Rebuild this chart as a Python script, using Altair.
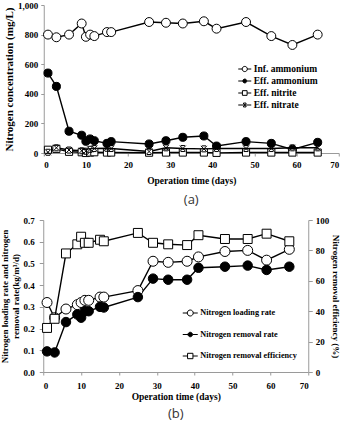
import altair as alt
import pandas as pd

# ---------- (a) nitrogen concentrations ----------
days_a = [1, 3, 6, 9, 10, 11, 12, 15, 16, 25, 29, 33, 38, 41, 48, 54, 59, 65]
inf_ammonium = [800, 782, 800, 875, 785, 800, 790, 817, 817, 885, 880, 875, 890, 840, 885, 790, 730, 800]
eff_ammonium = [540, 450, 147, 120, 79, 95, 83, 65, 77, 61, 83, 106, 115, 47, 77, 65, 24, 72]
eff_nitrite = [22, 28, 8, 5, 0, 3, 5, 3, 3, 2, 3, 3, 3, 1, 3, 3, 3, 3]
eff_nitrate = [5, 35, 20, 15, 12, 25, 30, 32, 30, 10, 35, 30, 28, 30, 30, 30, 35, 35]
series_a = ["Inf. ammonium", "Eff. ammonium", "Eff. nitrite", "Eff. nitrate"]

# ---------- (b) loading / removal ----------
days_b = [1, 3, 6, 9, 10, 11, 12, 15, 16, 25, 29, 33, 38, 41, 48, 54, 59, 65]
loading_rate = [0.32, 0.25, 0.29, 0.31, 0.32, 0.33, 0.33, 0.345, 0.345, 0.375, 0.51, 0.505, 0.51, 0.53, 0.555, 0.56, 0.515, 0.565]
removal_rate = [0.095, 0.09, 0.23, 0.265, 0.25, 0.28, 0.28, 0.30, 0.297, 0.345, 0.43, 0.425, 0.425, 0.48, 0.485, 0.49, 0.47, 0.485]
removal_eff = [29, 35, 78, 84, 89, 85, 85, 87, 86, 91.5, 85, 84, 83.5, 90, 87.5, 87.5, 91, 86]
series_b = ["Nitrogen loading rate", "Nitrogen removal rate", "Nitrogen removal efficiency"]

FONT = "Liberation Serif"
X_MARK = "M-1,-1L1,1M-1,1L1,-1M-0.7,-1L0.7,-1M-0.7,1L0.7,1"

# legend glyphs: a short line with the marker drawn over it
LEG_OPEN_CIRCLE = "M-1,0L-0.4,0M0.4,0L1,0M-0.4,0A0.4,0.4 0 1,0 0.4,0A0.4,0.4 0 1,0 -0.4,0Z"
LEG_SQUARE = "M-1,0L-0.36,0M0.36,0L1,0M-0.36,-0.36L0.36,-0.36L0.36,0.36L-0.36,0.36Z"
LEG_DOT = "M-1,0L-0.3,0M0.3,0L1,0M-0.3,0A0.3,0.3 0 1,0 0.3,0A0.3,0.3 0 1,0 -0.3,0Z"
LEG_X = "M-1,0L1,0M-0.25,-0.3L0.25,0.3M-0.25,0.3L0.25,-0.3M-0.2,-0.3L0.2,-0.3M-0.2,0.3L0.2,0.3"


def make_legend(x, y, size, spacing, font_size):
    return alt.Legend(
        title=None, orient="none", legendX=x, legendY=y,
        labelFont=FONT, labelFontWeight="bold", labelFontSize=font_size,
        labelColor="black", rowPadding=spacing, labelOffset=2,
        symbolSize=size, symbolStrokeColor="black", symbolStrokeWidth=1,
        symbolOpacity=1,
    )


def legend_layer(df, names, glyphs, fills, legend):
    # draws nothing in the plot; only supplies the legend entries
    return alt.Chart(df).transform_filter("false").mark_point(
        filled=True, stroke="black", strokeWidth=1).encode(
        shape=alt.Shape("series:N", scale=alt.Scale(domain=names, range=glyphs), legend=legend),
        fill=alt.Fill("series:N", scale=alt.Scale(domain=names, range=fills), legend=legend),
        stroke=alt.Stroke("series:N", scale=alt.Scale(domain=names, range=["black"] * len(names)), legend=legend),
    )


rows_a = []
for name, vals in zip(series_a, [inf_ammonium, eff_ammonium, eff_nitrite, eff_nitrate]):
    for d, v in zip(days_a, vals):
        rows_a.append({"day": d, "value": v, "series": name})
df_a = pd.DataFrame(rows_a)

fills_a = ["white", "black", "white", "white"]

x_a = alt.X("day:Q", scale=alt.Scale(domain=[0, 70]),
            axis=alt.Axis(values=list(range(0, 71, 10)), title="Operation time (days)",
                          tickSize=3, labelPadding=4, titlePadding=6, titleFontSize=9.5))
y_a = alt.Y("value:Q", scale=alt.Scale(domain=[0, 1000]),
            axis=alt.Axis(values=list(range(0, 1001, 200)), format=",.0f",
                          title="Nitrogen concentration (mg/L)", titleFontSize=11,
                          tickSize=3, labelPadding=3, titlePadding=3))

lines_a = alt.Chart(df_a).mark_line(color="black", strokeWidth=1.4).encode(
    x=x_a, y=y_a, detail="series:N")
points_a = alt.Chart(df_a).mark_point(filled=True, stroke="black", strokeWidth=1, opacity=1).encode(
    x=x_a, y=y_a,
    shape=alt.Shape("series:N", scale=alt.Scale(domain=series_a, range=["circle", "circle", "square", X_MARK]), legend=None),
    fill=alt.Fill("series:N", scale=alt.Scale(domain=series_a, range=fills_a), legend=None),
    size=alt.Size("series:N", scale=alt.Scale(domain=series_a, range=[80, 36, 80, 16]), legend=None),
)
key_a = legend_layer(df_a, series_a, [LEG_OPEN_CIRCLE, LEG_DOT, LEG_SQUARE, LEG_X], fills_a,
                     make_legend(194, 57, 169, 0, 9.5))

panel_a = alt.layer(lines_a, points_a, key_a).resolve_scale(
    shape="independent", fill="independent", size="independent", stroke="independent"
).properties(
    width=295, height=148,
    title=alt.TitleParams("(a)", orient="bottom", anchor="middle", font="Open Sans",
                          fontSize=13, fontWeight="normal", color="#333", offset=9),
)

# ---------- panel (b) ----------
rows_r = []
for name, vals in zip(series_b[:2], [loading_rate, removal_rate]):
    for d, v in zip(days_b, vals):
        rows_r.append({"day": d, "value": v, "series": name})
df_r = pd.DataFrame(rows_r)
df_e = pd.DataFrame({"day": days_b, "value": removal_eff, "series": series_b[2]})
fills_b = ["white", "black", "white"]

x_b = alt.X("day:Q", scale=alt.Scale(domain=[0, 70]),
            axis=alt.Axis(values=list(range(0, 71, 10)), title="Operation time (days)",
                          tickSize=3, labelPadding=6, titlePadding=1, titleFontSize=9.5))
shape_b = alt.Shape("series:N", scale=alt.Scale(domain=series_b, range=["circle", "circle", "square"]), legend=None)
fill_b = alt.Fill("series:N", scale=alt.Scale(domain=series_b, range=fills_b), legend=None)
size_b = alt.Size("series:N", scale=alt.Scale(domain=series_b, range=[100, 80, 64]), legend=None)

y_r = alt.Y("value:Q", scale=alt.Scale(domain=[0, 0.7]),
            axis=alt.Axis(values=[i / 10 for i in range(8)], format=".1f",
                          title=["Nitrogen loading rate and nitrogen", "removal rate(kg/m\u00b3/d)"],
                          titleFontSize=9, titleLineHeight=11,
                          tickSize=4, labelPadding=5, titlePadding=3))
y_e = alt.Y("value:Q", scale=alt.Scale(domain=[0, 100]),
            axis=alt.Axis(values=list(range(0, 101, 20)), orient="right",
                          title="Nitrogen removal efficiency (%)", titleFontSize=9,
                          tickSize=4, labelPadding=3, titlePadding=2))

rates = alt.layer(
    alt.Chart(df_r).mark_line(color="black", strokeWidth=1.4).encode(x=x_b, y=y_r, detail="series:N"),
    alt.Chart(df_r).mark_point(filled=True, stroke="black", strokeWidth=1, opacity=1).encode(
        x=x_b, y=y_r, shape=shape_b, fill=fill_b, size=size_b),
)
eff = alt.layer(
    alt.Chart(df_e).mark_line(color="black", strokeWidth=1.4).encode(x=x_b, y=y_e),
    alt.Chart(df_e).mark_point(filled=True, stroke="black", strokeWidth=1, opacity=1).encode(
        x=x_b, y=y_e, shape=shape_b, fill=fill_b, size=size_b),
)
key_b = legend_layer(df_e, series_b, [LEG_OPEN_CIRCLE, LEG_DOT, LEG_SQUARE], fills_b,
                     make_legend(139, 85, 225, 8.5, 8.2))

panel_b = alt.layer(rates, eff, key_b).resolve_scale(
    y="independent", shape="independent", fill="independent", size="independent", stroke="independent"
).properties(
    width=265, height=152,
    title=alt.TitleParams("(b)", orient="bottom", anchor="middle", font="Open Sans",
                          fontSize=13, fontWeight="normal", color="#333", offset=7),
)

chart = alt.vconcat(panel_a, panel_b, spacing=9, center=True).configure(
    padding={"left": 0, "top": 1, "right": 0, "bottom": 0}
).configure_view(stroke=None).configure_axis(
    grid=False, domainColor="#9a9a9a", tickColor="#9a9a9a",
    labelFont=FONT, labelFontWeight="bold", labelFontSize=9, labelColor="black",
    titleFont=FONT, titleFontWeight="bold", titleColor="black",
)

chart.save("out.html", embed_options={"renderer": "svg", "actions": False})
